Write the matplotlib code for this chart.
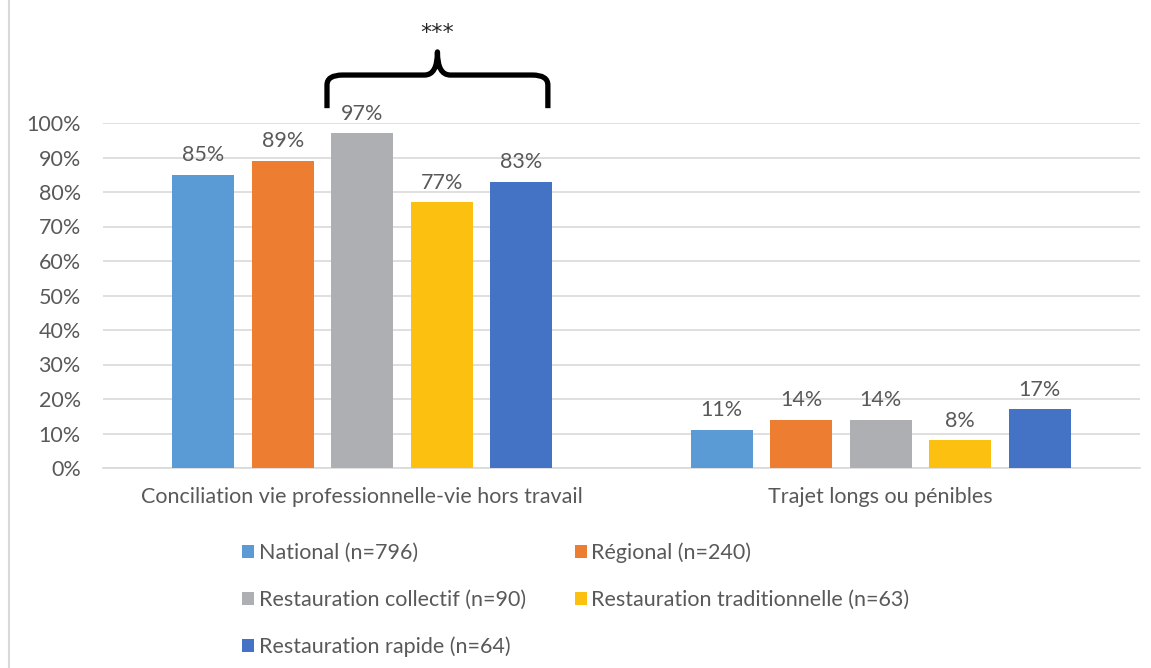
import numpy as np
import matplotlib
matplotlib.use("Agg")
import matplotlib.pyplot as plt
from matplotlib.path import Path
from matplotlib.patches import PathPatch, Patch
from matplotlib.lines import Line2D

plt.rcParams["font.family"] = ["Lato", "DejaVu Sans"]

CATEGORIES = ["Conciliation vie professionnelle-vie hors travail",
              "Trajet longs ou pénibles"]
GROUPS = ["National (n=796)", "Régional (n=240)", "Restauration collectif (n=90)",
          "Restauration traditionnelle (n=63)", "Restauration rapide (n=64)"]
VALUES = [
    [85, 11],
    [89, 14],
    [97, 14],
    [77, 8],
    [83, 17],
]
COLORS = ["#5B9BD5", "#ED7D31", "#AEAFB3", "#FCC010", "#4472C4"]
YTICKS = list(range(0, 101, 10))
SIGNIF = "***"

GREY = "#595959"
GRID = "#D9D9D9"
FS = 15.5

W, H = 1151, 668
fig = plt.figure(figsize=(W / 100, H / 100), dpi=100)
ax = fig.add_axes([103 / W, 200 / H, (1140 - 103) / W, (468 - 123) / H])

x = np.arange(len(CATEGORIES))
width = 0.1196
step = 0.1533
for i, (name, vals, col) in enumerate(zip(GROUPS, VALUES, COLORS)):
    pos = x + (i - 2) * step
    bars = ax.bar(pos, vals, width, color=col, label=name, zorder=3)
    for b, v in zip(bars, vals):
        ax.annotate(f"{v}%", (b.get_x() + b.get_width() / 2, v),
                    xytext=(0, 7), textcoords="offset points",
                    ha="center", va="bottom", fontsize=FS, color=GREY)

ax.set_xlim(-0.5, 1.5)
ax.set_ylim(0, 100)
ax.set_yticks(YTICKS)
ax.set_yticklabels([f"{t}%" for t in YTICKS])
ax.set_xticks(x)
ax.set_xticklabels(CATEGORIES)
ax.tick_params(axis="y", length=0, pad=16, labelsize=FS, labelcolor=GREY)
ax.tick_params(axis="x", length=0, pad=14, labelsize=FS, labelcolor=GREY)
ax.grid(axis="y", color=GRID, linewidth=1.2, zorder=0)
for s in ["top", "right", "left"]:
    ax.spines[s].set_visible(False)
ax.spines["bottom"].set_color(GRID)
ax.spines["bottom"].set_linewidth(1.2)

# accolade au-dessus du premier groupe
xl, xr = x[0] - 0.068, x[0] + 0.358
xm = (xl + xr) / 2
verts = [
    (xl, 104.3), (xl, 111.0), (xl, 113.9), (xl + 0.03, 113.9),
    (xm - 0.025, 113.9), (xm, 113.9), (xm, 120.6),
    (xm, 113.9), (xm + 0.025, 113.9),
    (xr - 0.03, 113.9), (xr, 113.9), (xr, 111.0), (xr, 104.3),
]
codes = [Path.MOVETO, Path.LINETO, Path.CURVE3, Path.CURVE3,
         Path.LINETO, Path.CURVE3, Path.CURVE3,
         Path.CURVE3, Path.CURVE3,
         Path.LINETO, Path.CURVE3, Path.CURVE3, Path.LINETO]
ax.add_patch(PathPatch(Path(verts, codes), facecolor="none", edgecolor="black",
                       linewidth=3.8, capstyle="butt", joinstyle="round",
                       clip_on=False, zorder=5))
ax.text(xm, 126.0, SIGNIF, ha="center", va="center", fontsize=16,
        family="DejaVu Sans", color="#262626", clip_on=False)

# bordure gauche du cadre
fig.add_artist(Line2D([9 / W, 9 / W], [0, 1], transform=fig.transFigure,
                      color=GRID, linewidth=1.5))

# légende : deux colonnes, remplie par colonne
order = [0, 2, 4, 1, 3]
handles = [Patch(facecolor=COLORS[i], label=GROUPS[i]) for i in order]
fig.legend(handles=handles, ncol=2, loc="upper left",
           bbox_to_anchor=(223 / W, 1 - 523 / H), frameon=False,
           fontsize=FS, labelcolor=GREY, handlelength=0.55, handleheight=0.55,
           handletextpad=0.2, labelspacing=1.25, columnspacing=2.3)

fig.savefig("out.png", dpi=100)
